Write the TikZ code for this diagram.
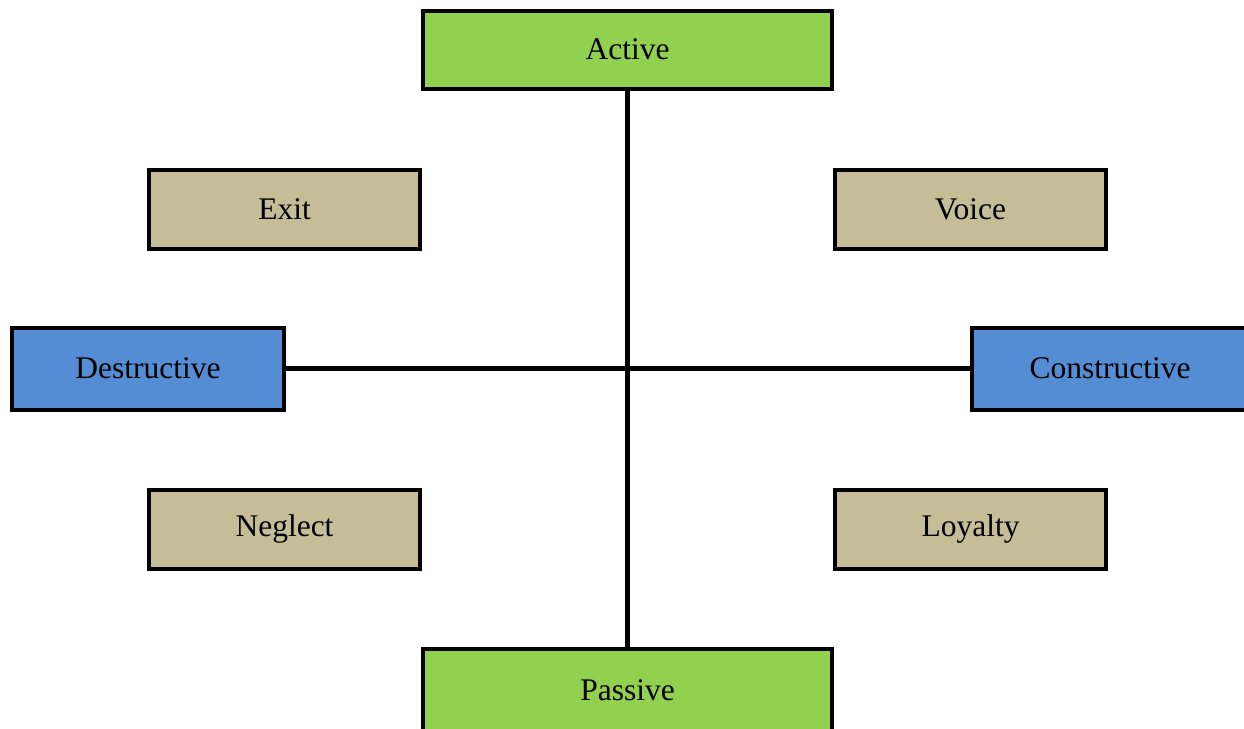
\documentclass[tikz,border=0pt]{standalone}
\usepackage{fontspec}
\setmainfont{Liberation Serif}
\definecolor{boxgreen}{RGB}{146,208,80}
\definecolor{boxblue}{RGB}{84,141,212}
\definecolor{boxtan}{RGB}{196,189,151}
\tikzset{
  box/.style={draw=black, line width=4pt, inner sep=0pt, outer sep=0pt,
    font=\fontsize{31.5}{36}\selectfont, text=black},
  axisbox/.style={box, minimum width=409pt, minimum height=78pt, fill=boxgreen},
  dimbox/.style={box, minimum width=272pt, minimum height=82pt, fill=boxblue},
  quadbox/.style={box, minimum width=271pt, minimum height=79pt, fill=boxtan},
  axisline/.style={draw=black, line width=5pt}
}
\begin{document}
\begin{tikzpicture}[x=1pt,y=-1pt]
\useasboundingbox (0,0) rectangle (1244,728);
\node[axisbox] (active) at (627.5,49.5) {Active};
\node[axisbox, minimum height=82pt] (passive) at (627.5,690) {Passive};
\node[dimbox] (destructive) at (148,368.5) {Destructive};
\node[dimbox, minimum width=276pt] (constructive) at (1110,368.5) {Constructive};
\node[quadbox] (exit) at (284.5,209) {Exit};
\node[quadbox] (voice) at (970.5,209) {Voice};
\node[quadbox] (neglect) at (284.5,529) {Neglect};
\node[quadbox] (loyalty) at (970.5,529) {Loyalty};
\draw[axisline] (active.south) -- (passive.north);
\draw[axisline] (destructive.east) -- (constructive.west);
\end{tikzpicture}
\end{document}
